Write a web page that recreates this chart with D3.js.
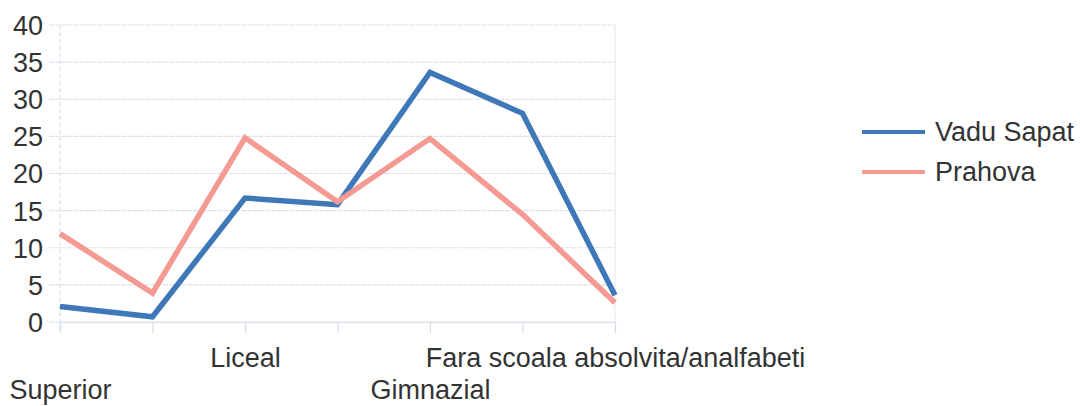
<!DOCTYPE html>
<html>
<head>
<meta charset="utf-8">
<script src="https://cdn.jsdelivr.net/npm/d3@7/dist/d3.min.js"></script>
<style>
  html, body { margin: 0; padding: 0; background: #ffffff; }
  svg { display: block; }
  text { font-family: "Liberation Sans", Arial, sans-serif; fill: #333333; }
</style>
</head>
<body>
<svg id="chart" width="1080" height="406"></svg>
<script>
const categories = ["Superior", "Postliceal", "Liceal", "Profesional", "Gimnazial", "Primar", "Fara scoala absolvita/analfabeti"];
const shownLabels = ["Superior", "Liceal", "Gimnazial", "Fara scoala absolvita/analfabeti"];
const vaduSapat = [2.1, 0.7, 16.7, 15.8, 33.6, 28.1, 3.6];
const prahova = [11.9, 3.9, 24.8, 16.2, 24.7, 14.5, 2.6];
const seriesNames = ["Vadu Sapat", "Prahova"];
const seriesColors = ["#3F78B8", "#F49A92"];
const yTicks = [0, 5, 10, 15, 20, 25, 30, 35, 40];

const svg = d3.select("#chart");
const x = d3.scalePoint().domain(categories).range([60, 615]);
const y = d3.scaleLinear().domain([0, 40]).range([322, 25]);
const FS = 27;

const grid = svg.append("g");
grid.selectAll("line.h").data(yTicks).join("line")
  .attr("x1", 49).attr("x2", 615)
  .attr("y1", d => y(d)).attr("y2", d => y(d))
  .attr("stroke", "#dbe2ec").attr("stroke-width", 1.2)
  .attr("stroke-dasharray", "5,1");
grid.append("line")
  .attr("x1", x(categories[0])).attr("x2", x(categories[0]))
  .attr("y1", y(40)).attr("y2", y(0) + 11)
  .attr("stroke", "#dbe2ec").attr("stroke-width", 1.2).attr("stroke-dasharray", "4,3");
grid.append("line")
  .attr("x1", 615).attr("x2", 615)
  .attr("y1", y(40)).attr("y2", y(0))
  .attr("stroke", "#e3e8ef").attr("stroke-width", 1);

// x axis
const xAxis = d3.axisBottom(x).tickSize(11).tickPadding(0)
  .tickFormat(d => shownLabels.includes(d) ? d : "");
const gx = svg.append("g").attr("transform", `translate(0,${y(0)})`).call(xAxis);
gx.select(".domain").attr("stroke", "#dbe2ec").attr("stroke-width", 1.2);
gx.selectAll(".tick line").attr("stroke", "#d5dce6").attr("stroke-width", 1.2);
gx.selectAll(".tick text")
  .attr("font-size", FS)
  .attr("fill", "#333")
  .attr("dy", null)
  .attr("y", (d) => (shownLabels.indexOf(d) % 2 === 0) ? 77 : 45);

// y axis
const yAxis = d3.axisLeft(y).tickValues(yTicks).tickSize(0).tickPadding(0);
const gy = svg.append("g").attr("transform", "translate(43,0)").call(yAxis);
gy.select(".domain").remove();
gy.selectAll(".tick text").attr("font-size", FS).attr("fill", "#333").attr("dy", "0.35em");

// lines
const line = d3.line().x((d, i) => x(categories[i])).y(d => y(d));
[vaduSapat, prahova].forEach((s, k) => {
  svg.append("path").datum(s)
    .attr("d", line)
    .attr("fill", "none")
    .attr("stroke", seriesColors[k])
    .attr("stroke-width", 5.5)
    .attr("stroke-linejoin", "miter");
});

// legend
const lg = svg.append("g");
seriesNames.forEach((n, k) => {
  const yy = 132 + k * 40;
  lg.append("line").attr("x1", 862).attr("x2", 925).attr("y1", yy).attr("y2", yy)
    .attr("stroke", seriesColors[k]).attr("stroke-width", 4);
  lg.append("text").attr("x", 935).attr("y", yy).attr("dy", "0.35em")
    .attr("font-size", FS).text(n);
});
</script>
</body>
</html>
